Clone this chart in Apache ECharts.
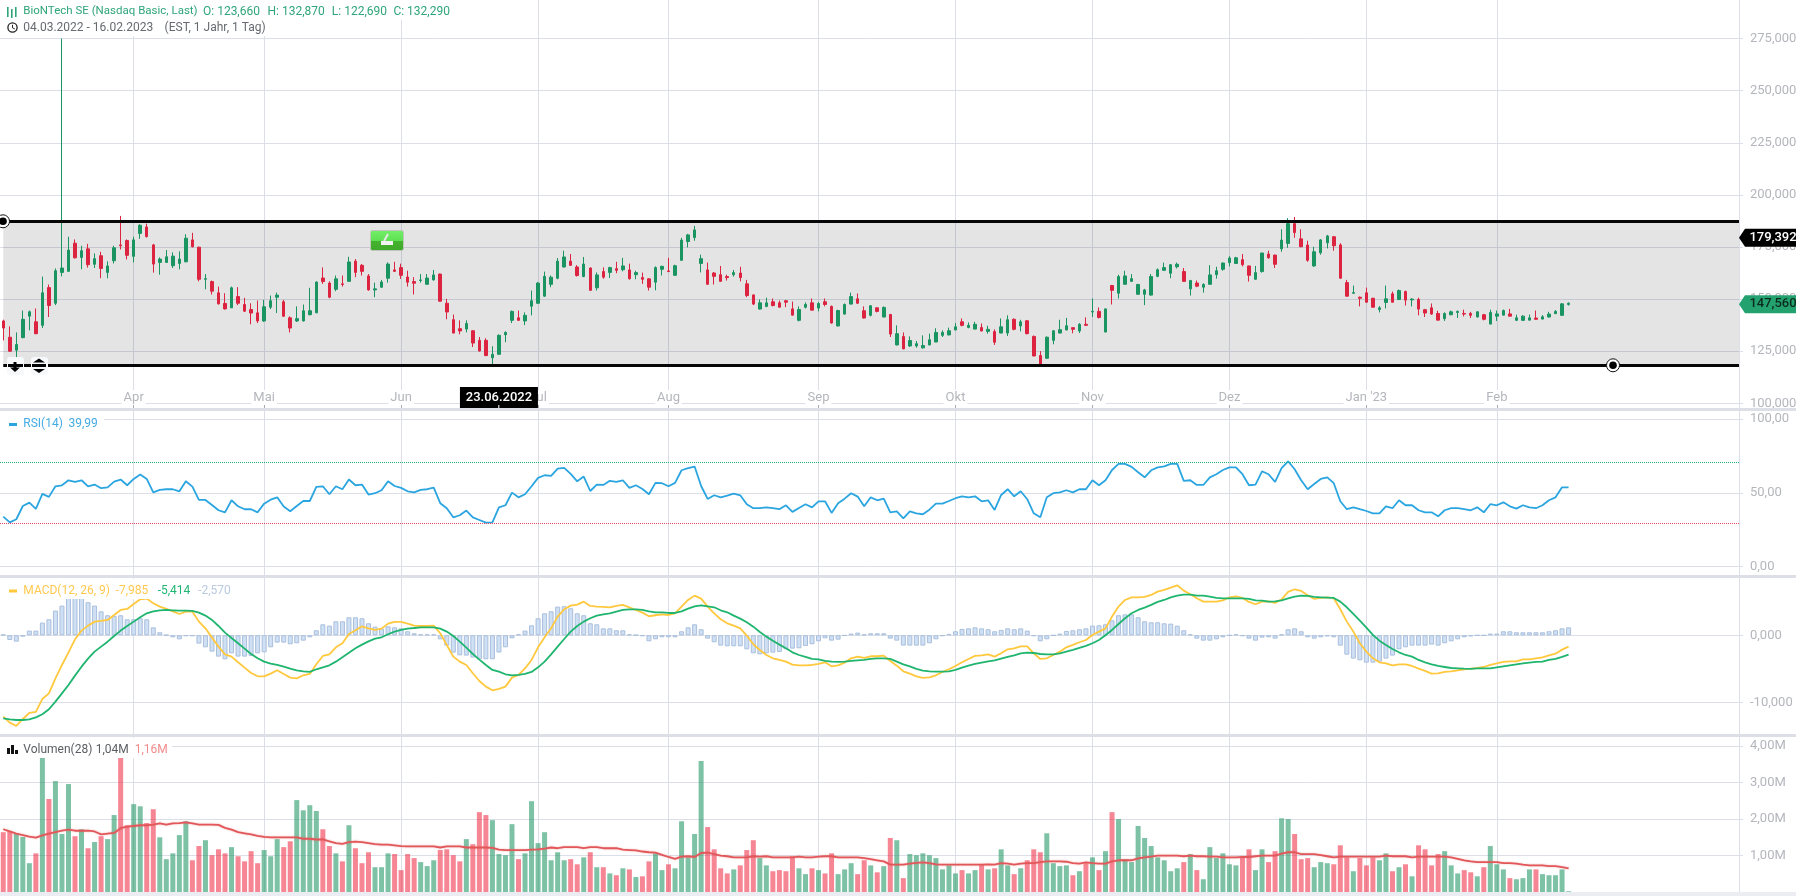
<!DOCTYPE html>
<html><head><meta charset="utf-8">
<style>html,body{margin:0;padding:0;background:#fff;overflow:hidden}#c{width:1796px;height:896px}</style>
<script src="https://cdn.jsdelivr.net/npm/echarts@6/dist/echarts.min.js"></script>
</head><body><div id="c"></div>
<script>
// open, close, low, high per trading day (04.03.2022 - 16.02.2023)
const ohlc=[[139.5,136.1,130.2,140.1],[131.7,125.0,124.7,136.9],[125.5,128.2,121.8,134.0],[131.5,140.3,131.2,144.5],[141.8,143.9,135.0,144.5],[139.1,133.4,133.1,145.5],[137.4,153.0,136.1,160.8],[155.5,146.9,141.4,157.0],[148.0,163.6,147.1,164.7],[162.8,164.9,160.9,275.0],
[163.3,173.5,163.2,179.9],[176.8,169.8,169.5,178.6],[170.0,173.2,164.3,175.6],[174.1,166.5,165.1,176.5],[166.7,169.4,164.9,171.9],[170.8,164.7,160.0,172.7],[162.8,165.9,160.0,168.1],[168.4,174.6,167.1,175.6],[176.0,175.6,173.8,189.9],[178.1,171.0,169.0,178.6],
[170.5,178.4,167.6,179.9],[181.5,185.4,178.9,185.9],[184.6,180.0,179.5,186.2],[176.0,166.8,162.7,176.5],[167.6,169.2,161.7,170.0],[167.6,170.3,167.5,173.5],[166.0,170.6,164.9,172.4],[167.1,169.2,164.3,172.9],[167.9,179.2,167.6,181.1],[178.4,175.1,174.8,181.8],
[174.9,159.5,158.5,175.1],[159.5,159.8,154.7,162.0],[158.4,153.8,152.2,158.9],[153.0,147.7,147.4,156.0],[147.9,145.3,145.0,152.8],[145.8,155.4,145.7,156.0],[151.2,148.0,147.1,155.7],[147.4,144.2,143.8,150.6],[145.0,143.3,137.9,148.0],[143.4,139.5,138.5,149.3],
[139.5,146.3,139.1,149.6],[146.1,149.2,145.2,151.7],[150.9,151.9,143.3,153.1],[148.7,141.8,141.4,149.6],[141.0,136.1,134.0,141.7],[139.5,140.6,139.0,146.5],[139.5,144.4,139.3,147.4],[142.5,144.4,142.2,155.4],[143.4,158.2,143.3,158.4],[160.1,158.4,157.3,165.2],
[157.7,150.9,150.4,158.5],[154.7,159.7,153.8,161.3],[157.3,157.0,156.0,161.3],[158.5,167.8,158.4,170.3],[168.2,162.8,160.5,169.2],[166.2,163.3,161.3,166.8],[161.1,154.4,154.1,162.0],[154.4,154.9,150.9,157.9],[155.7,158.2,155.4,159.2],[160.0,166.8,157.9,167.6],
[164.0,163.3,163.2,167.9],[165.1,161.4,159.7,167.0],[160.6,158.1,156.0,163.6],[158.4,157.6,152.2,160.5],[158.9,159.2,157.9,162.0],[157.1,160.1,157.0,162.0],[159.2,161.6,158.9,164.0],[162.0,149.0,148.8,162.2],[148.0,143.8,140.3,150.1],[140.1,133.7,133.6,142.6],
[135.8,134.7,133.1,139.8],[135.6,138.3,134.0,139.8],[134.8,128.9,127.0,135.0],[130.2,125.1,124.8,131.8],[130.2,122.9,122.6,131.2],[121.8,123.5,118.8,127.4],[123.5,132.6,123.2,133.1],[132.9,134.0,129.3,134.5],[139.8,144.1,138.5,144.5],[141.0,139.8,139.5,144.5],
[139.5,142.2,137.5,143.6],[146.6,149.2,142.2,154.1],[148.0,157.7,147.6,158.1],[151.4,160.9,151.1,163.2],[157.1,160.5,155.7,161.3],[160.0,168.2,159.5,169.7],[165.4,170.2,165.1,173.2],[168.2,166.2,165.9,171.6],[165.4,161.3,160.8,166.3],[160.8,166.8,160.5,170.2],
[164.9,154.2,154.1,165.2],[155.4,161.6,154.1,162.8],[163.2,160.5,159.8,165.2],[162.8,165.1,160.1,165.5],[164.6,163.8,162.4,167.9],[164.1,165.9,163.3,169.8],[164.0,159.8,159.3,167.0],[161.7,162.7,159.5,163.6],[160.3,159.5,157.3,162.7],[159.7,155.7,154.1,160.0],
[158.1,165.1,154.2,165.7],[164.3,165.7,161.3,166.0],[163.5,163.2,163.0,169.8],[161.4,166.0,161.3,166.5],[168.6,178.3,168.4,179.4],[177.6,180.8,174.8,181.3],[179.5,183.2,178.0,185.1],[167.1,169.4,162.8,171.3],[164.0,157.1,157.0,167.5],[162.5,160.9,157.0,163.0],
[161.7,158.5,158.4,165.9],[160.8,160.3,158.9,161.7],[161.7,162.7,160.8,164.0],[162.5,160.3,158.5,165.5],[157.3,151.7,150.9,159.2],[152.0,147.6,147.1,152.2],[145.2,148.2,145.0,149.8],[146.5,148.2,146.1,150.7],[148.7,146.9,146.5,150.3],[148.2,146.1,146.0,149.3],
[149.2,148.5,146.1,149.5],[145.3,142.3,142.2,148.8],[139.8,145.0,139.3,146.5],[146.1,147.4,145.5,148.4],[148.2,144.7,144.5,150.3],[145.7,147.9,144.1,148.5],[148.7,147.4,146.5,150.3],[146.5,138.5,138.3,146.9],[137.1,144.5,136.9,144.9],[142.8,147.4,142.6,147.9],
[147.6,151.2,147.4,153.1],[150.1,148.0,147.7,152.7],[144.4,140.9,140.7,146.5],[142.2,146.8,141.7,147.1],[145.8,144.1,143.6,146.1],[141.4,146.0,141.2,146.5],[142.6,133.2,131.8,142.9],[128.0,133.4,127.8,137.4],[132.0,126.1,126.0,134.0],[127.5,130.1,127.0,132.1],
[127.5,128.6,126.7,129.9],[126.6,127.7,126.2,132.6],[128.0,130.5,127.8,133.4],[129.4,134.0,129.3,136.0],[132.6,134.0,131.8,135.0],[132.8,134.8,132.6,136.3],[135.2,136.7,135.0,138.5],[139.1,137.4,136.9,140.7],[136.4,137.4,136.0,138.8],[135.6,137.9,135.5,139.1],
[136.4,134.7,134.5,138.3],[134.5,135.5,133.4,137.2],[134.4,129.3,128.0,135.5],[133.7,136.7,133.6,140.7],[133.7,140.1,132.3,142.2],[140.3,135.5,135.0,140.7],[137.1,139.1,134.5,140.1],[139.6,133.4,133.1,139.8],[132.1,122.7,122.6,132.5],[122.9,118.8,118.5,125.0],
[121.6,131.7,121.3,132.1],[130.2,134.8,128.3,135.0],[133.7,135.3,133.6,140.1],[135.2,137.2,135.0,141.0],[136.3,135.5,133.6,136.4],[134.7,137.9,133.7,138.5],[137.9,137.4,137.1,141.2],[143.8,144.1,141.4,150.3],[144.1,141.2,140.7,146.0],[134.2,145.3,134.0,145.5],
[156.5,154.2,147.4,156.8],[152.8,160.8,150.3,161.7],[157.1,161.1,157.0,163.6],[158.5,159.8,158.4,162.0],[152.3,157.0,152.2,157.3],[152.3,154.4,147.1,154.9],[151.9,160.8,151.7,162.0],[160.9,164.1,160.5,164.7],[163.8,165.1,163.6,167.5],[162.4,166.5,160.0,166.7],
[165.5,166.7,164.7,167.5],[163.2,158.5,158.4,164.9],[154.9,158.9,151.7,159.2],[157.7,156.2,155.7,158.9],[155.7,157.0,153.1,157.6],[157.1,161.6,157.0,166.3],[161.7,163.6,159.8,165.5],[164.3,167.3,163.6,167.5],[167.5,169.7,165.7,170.6],[167.1,169.8,166.8,170.3],
[168.9,166.5,165.7,171.6],[165.9,161.4,158.4,166.0],[159.5,162.7,159.3,165.9],[163.2,172.1,162.7,172.2],[171.6,169.8,169.4,173.2],[171.1,166.7,164.9,171.3],[174.1,178.3,172.7,183.5],[176.7,186.2,174.6,188.8],[186.2,181.9,179.4,189.4],[178.9,175.1,174.9,183.5],
[175.9,168.6,167.9,178.0],[165.9,172.7,165.5,175.1],[172.2,178.4,171.3,178.8],[177.0,180.3,174.3,180.8],[179.9,175.6,173.2,180.3],[176.0,160.0,159.8,176.8],[157.9,151.4,151.2,159.2],[152.8,153.1,152.5,156.5],[150.9,150.4,146.5,151.2],[153.0,148.5,148.4,155.5],
[150.4,146.1,146.0,150.6],[145.0,145.8,143.6,146.6],[148.4,150.1,145.5,156.5],[152.5,148.5,148.4,153.6],[149.8,154.1,149.5,154.6],[153.6,149.5,146.9,154.1],[149.6,150.0,146.5,150.4],[149.8,145.2,142.2,150.7],[144.9,143.3,141.4,145.3],[145.8,142.8,142.5,147.9],
[143.1,139.9,139.8,144.4],[140.6,143.1,139.5,143.6],[142.5,143.9,142.2,144.5],[143.6,144.1,140.9,144.5],[143.1,142.8,141.7,144.9],[143.1,142.2,140.9,143.9],[141.4,143.9,141.2,144.1],[142.5,140.3,139.8,142.9],[138.0,143.6,137.9,144.9],[141.8,142.9,139.5,144.5],
[142.3,144.5,142.2,145.0],[142.9,141.8,141.7,145.3],[139.8,141.0,139.5,142.5],[139.8,141.8,139.5,142.3],[139.9,141.0,139.8,142.6],[140.9,140.3,140.1,144.5],[140.4,141.5,140.3,142.3],[141.4,142.8,141.2,143.9],[143.0,144.1,142.8,144.7],[142.2,147.7,142.0,148.0],
[147.4,148.0,146.9,148.4]];
const rsi=[33.8,29.9,32.0,41.0,43.3,39.0,49.2,47.2,54.4,55.1,58.5,57.4,58.5,54.4,55.6,53.1,53.7,57.6,59.0,55.1,59.4,62.4,59.4,50.3,51.9,52.4,52.4,51.0,57.8,54.2,45.1,45.1,41.7,38.1,36.7,44.9,40.8,38.8,38.8,36.7,42.6,45.3,46.9,40.6,37.4,41.0,44.4,44.4,54.0,54.4,49.0,54.4,52.4,59.0,55.1,55.6,48.8,49.7,51.7,57.8,54.6,53.3,51.0,50.3,51.9,52.4,53.5,42.9,39.5,33.3,34.7,37.9,33.3,31.5,29.7,29.9,40.1,41.5,50.1,46.9,49.0,54.4,60.1,61.9,61.5,66.4,66.9,62.8,57.8,61.0,51.2,55.6,
55.3,58.1,57.4,58.5,53.3,55.1,52.6,49.0,56.7,56.5,54.4,56.7,65.3,66.7,67.8,54.6,45.8,48.3,46.9,48.1,49.4,48.3,42.2,39.5,39.5,40.1,39.5,38.8,41.5,37.0,39.7,42.2,40.1,44.2,44.2,36.3,42.9,46.0,49.7,47.4,40.8,46.9,44.9,46.0,36.7,37.4,32.6,37.4,36.0,35.4,38.5,42.6,42.6,44.4,46.3,47.6,46.9,47.6,44.2,44.9,38.3,48.5,52.4,47.6,51.0,45.6,36.0,33.3,46.9,49.7,50.3,51.7,50.3,52.4,52.4,58.5,55.1,58.5,65.5,69.6,69.6,67.6,64.0,60.5,65.3,67.3,68.0,69.6,69.6,58.1,58.5,55.3,
55.3,60.5,62.6,65.5,67.3,67.3,62.6,55.1,55.6,64.6,62.6,57.4,66.7,71.4,66.0,58.5,52.4,56.0,59.4,60.5,56.5,44.2,38.8,40.1,38.8,37.6,36.0,36.0,40.8,39.5,44.9,41.5,41.5,38.1,36.7,36.7,34.0,38.1,39.5,39.5,38.8,38.1,40.1,36.7,42.2,41.5,43.5,40.8,39.2,41.5,40.1,39.5,41.5,44.9,46.9,53.7,53.7];
const macd=[-12.14,-13.03,-13.53,-12.49,-11.59,-11.44,-9.50,-8.66,-6.42,-4.43,-2.54,-0.60,0.70,1.44,2.04,2.14,2.29,3.03,3.78,3.93,4.68,5.37,5.47,4.78,4.28,3.93,3.58,3.18,3.53,3.53,2.04,1.04,-0.35,-1.69,-2.84,-3.18,-4.03,-4.83,-5.62,-6.12,-6.12,-5.72,-5.22,-5.77,-6.32,-6.42,-5.97,-5.77,-4.33,-3.08,-2.84,-1.79,-1.19,0.20,0.75,1.34,1.04,0.80,1.00,1.74,1.99,1.99,1.74,1.44,1.39,1.39,1.44,0.30,-1.44,-3.18,-3.93,-4.43,-5.67,-6.82,-7.66,-8.21,-7.99,-7.66,-6.32,-5.92,-4.93,-3.68,-1.79,-0.30,1.04,2.79,3.88,4.43,4.58,5.02,4.38,4.28,
4.23,4.18,4.38,4.53,4.18,3.78,3.38,2.84,2.99,3.13,3.03,3.28,4.28,5.27,5.92,5.47,4.28,3.28,2.39,1.79,1.44,1.04,-0.05,-1.34,-2.19,-2.94,-3.43,-3.68,-3.93,-4.38,-4.48,-4.48,-4.43,-4.28,-4.03,-4.63,-4.48,-4.08,-3.43,-3.18,-3.38,-3.13,-3.13,-3.03,-3.83,-4.53,-5.37,-5.72,-6.12,-6.37,-6.27,-5.97,-5.47,-5.07,-4.58,-4.03,-3.53,-3.08,-2.99,-2.84,-3.18,-2.69,-2.09,-1.94,-1.64,-1.64,-2.69,-3.53,-3.43,-2.94,-2.44,-1.79,-1.44,-1.04,-0.70,0.05,0.55,1.04,2.79,4.28,5.27,5.67,5.67,5.72,6.02,6.52,6.77,7.11,7.46,6.67,6.12,5.52,
5.02,5.02,5.02,5.22,5.67,5.82,5.57,4.98,4.63,5.02,5.07,4.83,5.37,6.47,6.87,6.62,5.97,5.42,5.57,5.67,5.52,3.88,2.04,0.55,-1.19,-2.44,-3.43,-4.03,-4.18,-4.48,-4.33,-4.33,-4.58,-4.98,-5.32,-5.72,-5.67,-5.47,-5.37,-5.22,-5.07,-4.98,-4.88,-4.73,-4.43,-4.18,-3.98,-3.88,-3.88,-3.58,-3.58,-3.43,-3.28,-2.99,-2.74,-2.14,-1.69];
const macdSignal=[-12.39,-12.54,-12.64,-12.64,-12.54,-12.24,-11.79,-11.04,-9.90,-8.66,-7.41,-6.02,-4.68,-3.48,-2.44,-1.69,-0.95,-0.10,0.70,1.39,2.04,2.69,3.28,3.58,3.73,3.78,3.73,3.68,3.68,3.63,3.38,2.94,2.29,1.39,0.40,-0.40,-1.19,-1.99,-2.79,-3.43,-3.93,-4.23,-4.43,-4.68,-4.98,-5.22,-5.37,-5.47,-5.07,-4.78,-4.48,-3.93,-3.28,-2.59,-1.94,-1.39,-0.90,-0.50,-0.30,0.15,0.55,0.80,1.00,1.09,1.19,1.19,1.19,1.00,0.55,-0.10,-0.95,-1.84,-2.79,-3.63,-4.43,-5.17,-5.41,-5.82,-5.97,-5.92,-5.77,-5.47,-4.78,-3.93,-2.84,-1.69,-0.55,0.55,1.39,2.04,2.54,2.94,
3.13,3.28,3.53,3.78,3.88,3.88,3.78,3.58,3.43,3.43,3.33,3.33,3.58,3.98,4.33,4.48,4.33,4.18,3.73,3.43,2.94,2.49,1.94,1.29,0.50,-0.20,-0.80,-1.39,-1.94,-2.54,-2.94,-3.23,-3.53,-3.58,-3.83,-3.93,-3.98,-3.93,-3.83,-3.73,-3.68,-3.53,-3.43,-3.43,-3.53,-3.93,-4.33,-4.63,-5.02,-5.27,-5.37,-5.42,-5.42,-5.37,-5.17,-4.83,-4.53,-4.28,-4.08,-3.88,-3.73,-3.48,-3.23,-2.99,-2.69,-2.59,-2.64,-2.79,-2.84,-2.84,-2.69,-2.44,-2.19,-1.89,-1.59,-1.19,-0.70,0,0.80,1.69,2.54,3.28,3.78,4.13,4.53,4.98,5.27,5.67,5.92,6.07,6.07,5.92,
5.92,5.77,5.57,5.52,5.52,5.52,5.52,5.42,5.22,5.17,5.02,5.07,5.22,5.52,5.77,5.92,5.87,5.72,5.67,5.62,5.57,5.02,4.18,3.18,2.19,1.14,0.05,-0.80,-1.44,-2.04,-2.54,-2.94,-3.18,-3.68,-4.03,-4.33,-4.58,-4.73,-4.88,-4.93,-4.98,-5.02,-4.93,-4.93,-4.93,-4.78,-4.63,-4.48,-4.33,-4.18,-4.08,-3.98,-3.93,-3.68,-3.53,-3.23,-2.89];
const macdHist=[0.10,-0.70,-0.95,-0.20,0.70,0.70,1.89,2.39,3.68,4.43,5.60,5.80,5.60,4.93,4.43,3.58,2.99,2.89,2.99,2.39,2.39,2.54,2.39,1.19,0.45,0.05,-0.30,-0.60,-0.10,-0.10,-1.24,-1.79,-2.44,-3.18,-3.58,-2.69,-3.18,-3.18,-3.08,-2.69,-2.54,-1.79,-1.09,-1.09,-1.34,-1.19,-0.80,-0.30,0.75,1.64,1.44,2.09,2.09,2.69,2.69,2.54,1.79,1.29,1.00,1.34,1.19,1.04,0.60,0.30,0.15,0.15,0.15,-0.60,-1.54,-2.59,-2.99,-3.03,-3.33,-3.58,-3.58,-3.58,-2.57,-1.79,-0.45,0.15,0.70,1.49,2.54,3.28,3.58,4.28,4.33,4.03,3.28,2.99,1.79,1.64,
1.04,1.04,0.75,0.75,0.15,0.05,-0.10,-0.90,-0.60,-0.30,-0.30,-0.30,0.60,1.19,1.64,0.90,-0.50,-1.04,-1.54,-1.64,-1.64,-1.64,-2.09,-2.69,-2.84,-2.69,-2.59,-2.49,-2.09,-1.99,-1.94,-1.59,-1.34,-0.90,-0.45,-0.80,-0.65,-0.05,0.25,0.40,0.15,0.30,0.30,0.30,-0.50,-0.80,-1.54,-1.54,-1.54,-1.54,-1.19,-0.60,-0.10,0.20,0.60,0.95,1.04,1.19,1.04,0.90,0.60,0.80,1.04,0.90,1.04,0.70,-0.10,-0.90,-0.60,-0.02,0.25,0.65,0.75,0.90,1.04,1.44,1.49,1.64,2.24,2.99,3.13,3.13,2.69,2.09,1.94,1.94,1.79,1.74,1.44,0.75,0.15,-0.50,
-0.80,-0.80,-0.60,-0.30,-0.02,0.15,-0.10,-0.50,-0.80,-0.35,-0.30,-0.50,0.15,0.90,1.04,0.60,-0.30,-0.50,-0.30,-0.15,-0.30,-1.54,-2.89,-3.48,-3.73,-4.08,-4.08,-3.93,-3.48,-3.03,-2.09,-1.79,-1.54,-1.54,-1.54,-1.39,-1.54,-1.19,-0.90,-0.60,-0.30,-0.15,-0.02,-0.02,0.25,0.25,0.60,0.60,0.45,0.45,0.45,0.45,0.45,0.60,0.75,1.04,1.19];
const volume=[1.64,1.67,1.60,1.51,0.79,1.06,3.80,2.55,3.04,1.59,2.96,1.53,1.72,1.20,1.37,1.53,1.45,2.11,3.80,1.83,2.41,2.35,1.89,2.27,1.50,0.90,1.06,1.56,1.94,0.87,1.26,1.42,1.01,1.17,1.06,1.23,0.98,0.84,1.12,0.79,1.15,0.98,1.45,1.23,1.39,2.52,2.24,2.38,2.22,1.72,1.26,1.06,0.84,1.83,1.20,0.79,1.09,0.68,0.68,1.06,1.04,0.60,1.04,0.93,0.82,0.71,0.87,1.15,1.17,1.01,0.84,1.45,1.31,2.19,2.11,1.97,1.04,1.01,1.86,0.90,1.06,2.49,1.34,1.64,0.87,1.09,0.87,0.90,0.76,0.95,1.09,0.68,
0.68,0.51,0.46,0.65,0.62,0.41,0.43,0.84,1.06,0.60,0.76,0.65,1.94,0.95,1.59,3.59,1.78,1.17,0.65,0.51,0.62,0.73,1.15,1.42,0.93,0.73,0.57,0.60,0.57,0.98,0.65,0.49,0.65,0.60,0.51,1.06,0.49,0.62,0.79,0.49,0.87,0.73,0.54,0.71,1.48,1.42,0.38,1.04,1.01,1.06,1.01,0.93,0.62,0.73,0.51,0.60,0.51,0.60,0.76,0.62,0.65,1.17,0.73,0.49,0.65,0.87,1.17,1.09,1.61,0.79,0.71,0.73,0.46,0.57,0.79,0.95,0.60,1.12,2.19,2.00,0.90,0.82,1.81,1.48,1.26,0.95,0.87,0.57,0.65,0.82,1.04,0.60,
0.35,1.23,0.93,1.06,0.76,0.73,0.98,1.17,0.60,1.17,0.82,1.12,2.02,2.00,1.59,0.90,0.93,0.68,0.82,0.79,0.76,1.28,0.95,0.57,0.93,0.73,0.95,0.87,1.06,0.57,0.68,0.76,0.43,1.28,1.17,0.73,1.04,1.12,0.73,0.51,0.60,0.54,0.43,0.68,1.26,0.76,0.62,0.38,0.35,0.38,0.62,0.62,0.49,0.46,0.46,0.62,0.02];
const volumeAvg=[1.72,1.66,1.60,1.56,1.52,1.49,1.55,1.60,1.64,1.68,1.71,1.68,1.68,1.68,1.66,1.58,1.60,1.62,1.75,1.79,1.81,1.83,1.83,1.85,1.88,1.85,1.88,1.89,1.91,1.88,1.85,1.85,1.85,1.84,1.76,1.71,1.64,1.61,1.58,1.54,1.51,1.50,1.50,1.50,1.50,1.50,1.46,1.46,1.44,1.44,1.39,1.34,1.32,1.37,1.38,1.37,1.34,1.31,1.30,1.30,1.28,1.26,1.25,1.25,1.25,1.25,1.25,1.22,1.25,1.25,1.25,1.22,1.22,1.22,1.22,1.21,1.16,1.15,1.15,1.15,1.15,1.16,1.17,1.19,1.22,1.20,1.23,1.23,1.23,1.20,1.23,1.23,
1.20,1.20,1.20,1.16,1.15,1.14,1.11,1.09,1.08,1.02,0.96,0.91,0.97,0.98,0.96,1.07,1.08,1.04,1.00,0.98,0.95,0.95,0.95,0.98,0.97,0.98,0.95,0.95,0.95,0.95,0.97,0.95,0.95,0.97,0.98,0.98,0.95,0.95,0.95,0.95,0.93,0.90,0.87,0.84,0.75,0.75,0.75,0.78,0.80,0.81,0.79,0.76,0.75,0.75,0.75,0.75,0.75,0.75,0.75,0.76,0.75,0.79,0.78,0.75,0.78,0.79,0.79,0.82,0.84,0.84,0.84,0.83,0.79,0.78,0.81,0.79,0.78,0.78,0.84,0.87,0.87,0.87,0.92,0.95,0.97,1.00,1.00,1.00,1.00,0.98,1.00,0.98,
0.98,0.97,0.97,0.95,0.95,0.95,0.96,0.96,0.98,1.00,1.00,1.00,1.05,1.09,1.09,1.04,1.04,1.04,1.01,0.98,0.95,0.97,0.97,0.97,0.97,0.97,0.97,0.97,1.00,0.98,0.98,0.98,0.95,0.97,0.97,0.97,0.97,0.97,0.95,0.91,0.87,0.84,0.82,0.82,0.82,0.82,0.79,0.79,0.78,0.75,0.73,0.73,0.73,0.71,0.71,0.68,0.65];
const monthIndex=[20,40,61,82,102,125,146,167,188,209,229];
const monthLabels=["Apr","Mai","Jun","Jul","Aug","Sep","Okt","Nov","Dez","Jan '23","Feb"];
const priceTicks=[100,125,150,175,200,225,250,275];
const rsiTicks=[0,50,100];
const macdTicks=[-10,0];
const volumeTicks=[1,2,3,4];
const channelHigh=187.3, channelLow=118.2;
const rsiUpper=70.7, rsiLower=29.3;
const tagBlack=179.392, tagGreen=147.56;
const crossIndex=76, crossLabel="23.06.2022";

const FONT='Roboto';
const GRIDC='#dcdfe8', LABC='#b4b6bc', SEP='#dcdfe6';
const UP='#1a9461', DOWN='#dc2340';
const xMin=-0.5, xMax=266.13;
const comma=(v,d)=>v.toFixed(d).replace('.',',');
const idx=a=>a.map((v,i)=>[i,v]);

const gridDefs=[{top:0,height:408},{top:411,height:164},{top:578,height:156},{top:737,height:155}];
const xAxis=gridDefs.map((g,i)=>({
  type:'value',gridIndex:i,min:xMin,max:xMax,
  axisLine:{show:false},
  axisTick:{show:i===0,inside:true,length:3,customValues:monthIndex,lineStyle:{color:'#a9abb2'}},
  axisLabel:i===0?{show:true,inside:true,margin:3,customValues:monthIndex,
    formatter:v=>monthLabels[monthIndex.indexOf(v)]||'',
    fontFamily:FONT,fontSize:13,color:LABC,backgroundColor:'#fff',padding:[1,2,1,2]}:
    {show:false,customValues:monthIndex},
  splitLine:{show:true,lineStyle:{color:GRIDC,width:1}}
}));
const yBase=(i,min,max,ticks,fmt)=>({
  type:'value',gridIndex:i,position:'right',min,max,scale:false,
  axisLine:{show:true,onZero:false,lineStyle:{color:GRIDC}},
  axisTick:{show:true,length:4,customValues:ticks,lineStyle:{color:GRIDC}},
  axisLabel:{show:true,margin:11,customValues:ticks,formatter:fmt,fontFamily:FONT,fontSize:13,color:LABC,align:'left'},
  splitLine:{show:true,lineStyle:{color:GRIDC,width:1}}
});
const yAxis=[
  yBase(0,97.74,293.5,priceTicks,v=>comma(v,3)),
  yBase(1,-5.92,105.6,rsiTicks,v=>comma(v,2)),
  yBase(2,-14.73,8.55,macdTicks,v=>comma(v,3)),
  yBase(3,0,4.25,volumeTicks,v=>comma(v,2)+'M')
];
const tagLabel=(color)=>({show:true,position:'inside',offset:[5,0],formatter:p=>comma(p.value,3),color,fontFamily:FONT,fontSize:13,fontWeight:500});
const pointer='path://M0,10 L6,0 L58,0 L58,20 L6,20 Z';
const series=[
 {type:'line',name:'Kanalfläche',xAxisIndex:0,yAxisIndex:0,data:[],z:1,silent:true,
  markArea:{silent:true,itemStyle:{color:'rgba(0,0,0,0.105)'},data:[[{coord:[0,channelHigh]},{coord:[xMax,channelLow]}]]}},
 {type:'candlestick',name:'BioNTech SE',xAxisIndex:0,yAxisIndex:0,z:2,barWidth:3,
  data:ohlc.map((d,i)=>[i,d[0],d[1],d[2],d[3]]),
  itemStyle:{color:UP,color0:DOWN,borderColor:UP,borderColor0:DOWN,borderWidth:1}},
 {type:'line',name:'Kanal',xAxisIndex:0,yAxisIndex:0,data:[],z:5,silent:true,
  markLine:{silent:true,symbol:'none',label:{show:false},lineStyle:{type:'solid',color:'#060606',width:3},
    data:[[{coord:[0,channelHigh]},{coord:[xMax,channelHigh]}],[{coord:[0,channelLow]},{coord:[xMax,channelLow]}]]}},
 {type:'line',name:'Marken',xAxisIndex:0,yAxisIndex:0,data:[],z:6,silent:true,
  markPoint:{silent:true,data:[
    {coord:[xMax,tagBlack],value:tagBlack,symbol:pointer,symbolSize:[58,18],symbolOffset:[29,0],itemStyle:{color:'#000'},label:tagLabel('#fff')},
    {coord:[xMax,tagGreen],value:tagGreen,symbol:pointer,symbolSize:[58,18],symbolOffset:[29,0],itemStyle:{color:'#23a26f'},label:tagLabel('#0c2a1e')},
    {coord:[crossIndex,102.8],value:0,symbol:'rect',symbolSize:[78,21],itemStyle:{color:'#000'},
      label:{show:true,position:'inside',formatter:crossLabel,color:'#fff',fontFamily:FONT,fontSize:13,fontWeight:500}}
  ]}},
 {type:'line',name:'RSI(14)',xAxisIndex:1,yAxisIndex:1,data:idx(rsi),symbol:'none',z:3,lineStyle:{color:'#2aa5e0',width:1.8},
  markLine:{silent:true,symbol:'none',label:{show:false},data:[
    {yAxis:rsiUpper,lineStyle:{type:'dotted',color:'#1fb573',width:1}},
    {yAxis:rsiLower,lineStyle:{type:'dotted',color:'#e8485e',width:1}}]}},
 {type:'bar',name:'Histogramm',xAxisIndex:2,yAxisIndex:2,data:idx(macdHist),barWidth:5,z:2,
  itemStyle:{color:'#cfe0f5',borderColor:'#a9bfdc',borderWidth:1}},
 {type:'line',name:'MACD',xAxisIndex:2,yAxisIndex:2,data:idx(macd),symbol:'none',z:3,lineStyle:{color:'#ffc83d',width:1.8}},
 {type:'line',name:'Signal',xAxisIndex:2,yAxisIndex:2,data:idx(macdSignal),symbol:'none',z:4,lineStyle:{color:'#1fb56f',width:1.8}},
 {type:'bar',name:'Volumen',xAxisIndex:3,yAxisIndex:3,barWidth:5,z:2,
  data:volume.map((v,i)=>({value:[i,v],itemStyle:{color:ohlc[i][1]>=ohlc[i][0]?'rgba(38,154,105,0.6)':'rgba(239,35,60,0.55)'}}))},
 {type:'line',name:'Volumen(28)',xAxisIndex:3,yAxisIndex:3,data:idx(volumeAvg),symbol:'none',z:3,
  lineStyle:{color:'#e2585a',width:1.8,shadowColor:'rgba(226,88,90,0.45)',shadowBlur:2}}
];
const T=(x,y,text,fill,size)=>({type:'text',x,y,z:20,silent:true,style:{text,fill,font:(size||12)+'px '+FONT,verticalAlign:'middle'}});
const R=(x,y,w,h,fill,z,r)=>({type:'rect',z:z||19,silent:true,shape:{x,y,width:w,height:h,r:r||0},style:{fill}});
const handle=(x,y)=>[{type:'circle',z:21,silent:true,shape:{cx:x,cy:y,r:6.5},style:{fill:'#fff',stroke:'#111',lineWidth:1}},{type:'circle',z:22,silent:true,shape:{cx:x,cy:y,r:3.8},style:{fill:'#000'}}];
const HG='#2fa57b';
const graphicEls=[
 // panel separators
 R(0,408,1796,3,SEP,18),R(0,575,1796,3,SEP,18),R(0,734,1796,3,SEP,18),R(0,892,1796,4,'#ebedf3',18),
 // header and legend backgrounds
 R(0,0,452,20,'#fff'),R(0,20,265,16,'#fff'),R(0,412,104,20,'#fff'),R(0,579,235,20,'#fff'),R(0,738,172,20,'#fff'),
 // chart header
 R(7,7,1.6,10,HG,20),R(11,9,1.6,9,HG,20),R(15,7,1.6,10,HG,20),
 T(23.3,11.5,'BioNTech SE (Nasdaq Basic, Last)',HG,11.5),T(203,11.5,'O: 123,660',HG),T(267.5,11.5,'H: 132,870',HG),T(331.8,11.5,'L: 122,690',HG),T(393.4,11.5,'C: 132,290',HG),
 {type:'circle',z:20,silent:true,shape:{cx:12.5,cy:27.5,r:4.6},style:{fill:'none',stroke:'#222',lineWidth:1.3}},
 {type:'polyline',z:20,silent:true,shape:{points:[[12.5,24.8],[12.5,27.8],[14.8,29]]},style:{fill:'none',stroke:'#222',lineWidth:1}},
 T(23.3,27.5,'04.03.2022 - 16.02.2023','#666a70'),T(164.6,27.5,'(EST, 1 Jahr, 1 Tag)','#666a70'),
 // RSI legend
 R(9,423,8,3,'#2aa5e0',20),T(23.3,424,'RSI(14)','#45abe2'),T(68.5,424,'39,99','#45abe2'),
 // MACD legend
 R(9,589.5,8,3,'#ffc83d',20),T(23.3,591,'MACD(12, 26, 9)','#ffc94f'),T(115.6,591,'-7,985','#ffc94f'),T(157.7,591,'-5,414','#20b573'),T(198.2,591,'-2,570','#b8c9e0'),
 // volume legend
 R(7,748,3,6,'#111',20),R(11,745,3,9,'#111',20),R(15,750,3,4,'#111',20),
 T(23.3,750,'Volumen(28)','#5a5d62'),T(95.7,750,'1,04M','#5a5d62'),T(134.7,750,'1,16M','#f28b8b'),
 // handles on the channel
 ...handle(3,221.3),...handle(1613,365.3),
 R(7,357,17,18,'#f7f8fa',21,3),R(31,357,17,18,'#f7f8fa',21,3),
 {type:'polygon',z:22,silent:true,shape:{points:[[10,367.5],[20,367.5],[15,372]]},style:{fill:'#000'}},
 R(13.5,362,3,6,'#000',22),R(8,364,15,3,'#000',22),
 {type:'polygon',z:22,silent:true,shape:{points:[[33,362.5],[39,358.5],[45,362.5]]},style:{fill:'#000'}},
 {type:'polygon',z:22,silent:true,shape:{points:[[33,369],[39,373],[45,369]]},style:{fill:'#000'}},
 R(32,364,14,3,'#000',22),
 // green note marker
 {type:'rect',z:21,silent:true,shape:{x:370.5,y:230.5,width:33,height:20,r:2},style:{stroke:'#bfc4bf',lineWidth:1,fill:{type:'linear',x:0,y:0,x2:0,y2:1,colorStops:[{offset:0,color:'#74f06a'},{offset:0.5,color:'#5fe052'},{offset:0.52,color:'#45b32e'},{offset:1,color:'#3fa82a'}]}}},
 R(381,241,12,4,'#f2f2f2',22),
 {type:'polyline',z:22,silent:true,shape:{points:[[384,241],[388,234]]},style:{fill:'none',stroke:'#e8e8e8',lineWidth:2}},
 // tick under the date tag
 R(498.3,405,1,3,'#fff',22)
];
const chart=echarts.init(document.getElementById('c'),null,{renderer:'canvas'});
chart.setOption({animation:false,backgroundColor:'#fff',textStyle:{fontFamily:FONT},
  grid:gridDefs.map(g=>({left:0,right:57,top:g.top,height:g.height,containLabel:false,outerBoundsMode:'none'})),
  xAxis,yAxis,series,graphic:{elements:graphicEls}});
</script></body></html>
